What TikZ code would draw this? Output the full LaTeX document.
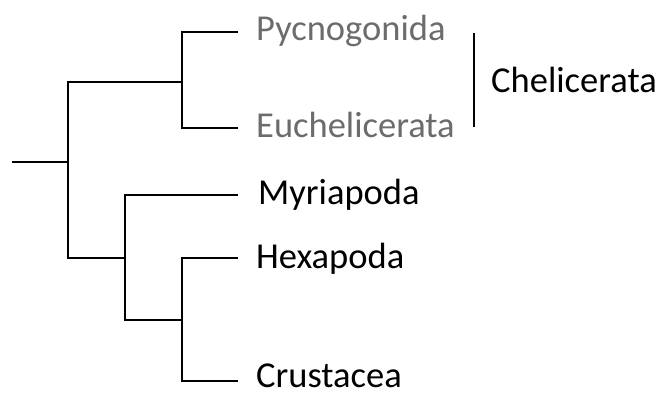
\documentclass[tikz,border=0pt]{standalone}
\usepackage{fontspec}
\setmainfont{Carlito}
\definecolor{leafgray}{RGB}{108,108,108}
\begin{document}
\begin{tikzpicture}[x=1bp,y=-1bp,
  branch/.style={line width=2bp,black},
  taxon/.style={anchor=base west,inner sep=0pt,font=\fontsize{36.5bp}{40bp}\selectfont},
  grayx/.style={taxon,text=leafgray}]
\useasboundingbox (0,0) rectangle (661,396);
% internal nodes
\coordinate (s) at (12,162);
\coordinate (n0) at (68,162);
\coordinate (n1) at (182,82);
\coordinate (n2) at (125,258);
\coordinate (n3) at (182,320);
% leaf ends
\coordinate (l1) at (238,32);
\coordinate (l2) at (238,128);
\coordinate (l3) at (238,195);
\coordinate (l4) at (238,258);
\coordinate (l5) at (238,381);
\draw[branch] (s) -- (n0);
\draw[branch] (n0) |- (n1);
\draw[branch] (n0) |- (n2);
\draw[branch] (n1) |- (l1);
\draw[branch] (n1) |- (l2);
\draw[branch] (n2) |- (l3);
\draw[branch] (n2) |- (n3);
\draw[branch] (n3) |- (l4);
\draw[branch] (n3) |- (l5);
% labels
\node[grayx] (t1) at (256,40) {Pycnogonida};
\node[grayx] (t2) at (256,137) {Euchelicerata};
\node[taxon] (t3) at (258,204) {Myriapoda};
\node[taxon] (t4) at (256,268) {Hexapoda};
\node[taxon] (t5) at (256,387) {Crustacea};
% clade bar
\coordinate (b1) at (474,33);
\coordinate (b2) at (474,127);
\draw[branch] (b1) -- (b2);
\node[taxon] (cl) at (491,92) {Chelicerata};
\end{tikzpicture}
\end{document}
